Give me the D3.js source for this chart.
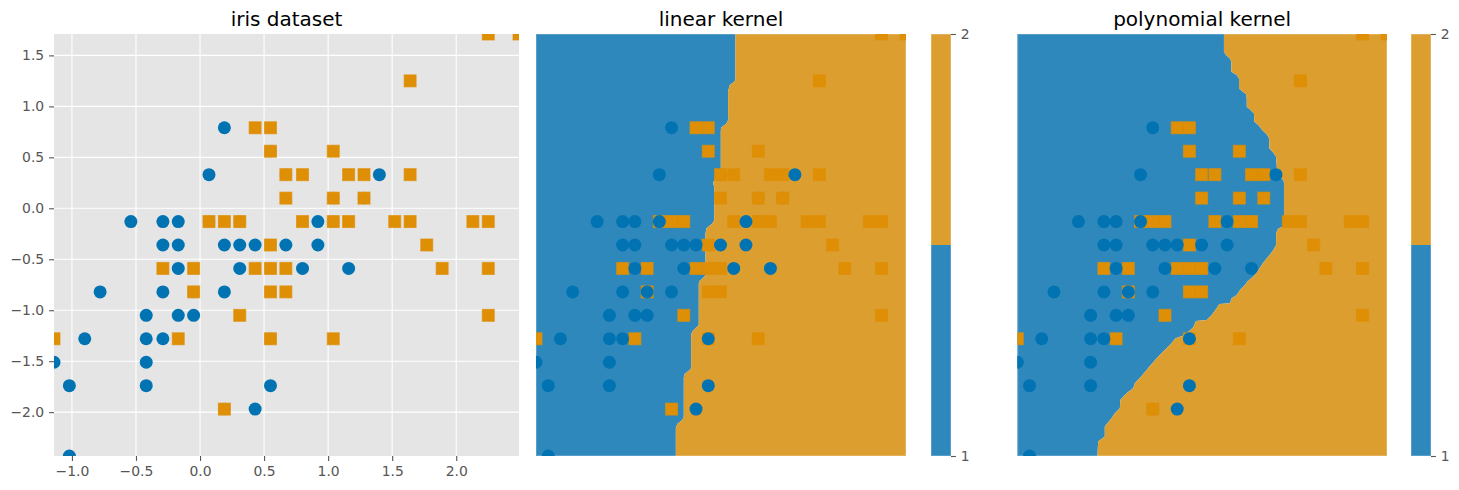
<!DOCTYPE html>
<html>
<head>
<meta charset="utf-8">
<style>
  body { margin: 0; background: #fff; }
  text { font-family: "DejaVu Sans", sans-serif; }
</style>
<script src="https://cdn.jsdelivr.net/npm/d3@7"></script>
</head>
<body>
<script>
/* global d3 */
(function () {
  'use strict'

  // class 1 points (standardised sepal length / width)
  var class1X = [1.40, 0.67, 1.28, -0.42, 0.80, -0.17, 0.55, -1.14, 0.92, -0.78, -1.02, 0.07, 0.19, 0.31, -0.29, 1.04, -0.29, -0.05, 0.43, -0.29, 0.07, 0.31, 0.55, 0.67, 0.92, 1.16, 1.04, 0.19, -0.17, -0.42, 0.19, -0.54, 0.19, 0.55, -0.42, -0.42, 0.31, -0.05, -1.02, -0.29, -0.17, -0.17, 0.43, -0.90]
  var class1Y = [0.33, 0.33, 0.10, -1.74, -0.59, -0.59, 0.56, -1.51, -0.36, -0.82, -2.43, -0.13, -1.97, -0.36, -0.36, 0.10, -0.13, -0.82, -1.97, -1.28, 0.33, -0.59, -1.28, -0.36, -0.13, -0.59, -0.13, -0.36, -1.05, -1.51, -0.82, -0.13, 0.79, -1.74, -1.28, -1.05, -0.13, -1.05, -1.74, -0.82, -0.13, -0.36, -0.36, -1.28]

  // class 2 points
  var class2X = [0.55, -0.05, 1.52, 0.55, 0.80, 2.13, -1.14, 1.77, 1.04, 1.64, 0.80, 0.67, 1.16, -0.17, -0.05, 0.67, 2.25, 2.25, 0.19, 1.28, -0.29, 2.25, 0.55, 1.04, 1.64, 0.43, 0.31, 0.67, 1.64, 1.89, 2.49, 0.55, 0.31, 2.25, 0.55, 0.67, 0.19, 1.28, 1.04, 1.16, 1.04, 0.55, 0.43, 0.07]
  var class2Y = [0.56, -0.82, -0.13, -0.36, -0.13, -0.13, -1.28, -0.36, -1.28, 1.25, 0.33, -0.82, -0.13, -1.28, -0.59, 0.33, 1.71, -1.05, -1.97, 0.33, -0.59, -0.59, -0.82, 0.56, 0.33, -0.59, -0.13, -0.59, -0.13, -0.59, 1.71, -0.59, -1.05, -0.13, 0.79, 0.10, -0.13, 0.10, 0.10, 0.33, -0.13, -1.28, 0.79, -0.13]

  // coincident points where class 1 stays on top in the kernel panels
  var class1OnTopX = [0.07, -0.05, 0.55]
  var class1OnTopY = [-0.13, -0.82, -1.28]

  // decision boundary of the linear kernel, top to bottom
  var linearEdgeX = [0.817, 0.817, 0.801, 0.762, 0.752, 0.745, 0.745, 0.752, 0.729, 0.680, 0.673, 0.673, 0.608, 0.598, 0.608, 0.608, 0.592, 0.533, 0.523, 0.523, 0.506, 0.467, 0.457, 0.457, 0.435, 0.392, 0.382, 0.382, 0.362, 0.320, 0.310, 0.310, 0.297, 0.245, 0.232, 0.232]
  var linearEdgeY = [1.71, 1.258, 1.240, 1.209, 1.176, 1.150, 0.898, 0.882, 0.833, 0.794, 0.768, 0.392, 0.277, 0.245, 0.212, -0.115, -0.147, -0.196, -0.245, -0.654, -0.676, -0.710, -0.735, -1.144, -1.167, -1.210, -1.242, -1.569, -1.592, -1.624, -1.657, -2.043, -2.075, -2.115, -2.157, -2.43]

  // decision boundary of the polynomial kernel, top to bottom
  var polyEdgeX = [0.889, 0.889, 0.909, 0.948, 0.962, 0.962, 1.014, 1.037, 1.037, 1.063, 1.106, 1.113, 1.113, 1.145, 1.184, 1.187, 1.227, 1.260, 1.315, 1.332, 1.335, 1.374, 1.401, 1.408, 1.408, 1.473, 1.479, 1.479, 1.423, 1.401, 1.401, 1.374, 1.325, 1.283, 1.227, 1.178, 1.119, 1.096, 1.047, 1.014, 0.965, 0.948, 0.844, 0.817, 0.768, 0.719, 0.614, 0.588, 0.539, 0.506, 0.414, 0.358, 0.244, 0.162, 0.080, 0.014, -0.002, -0.068, -0.127, -0.133, -0.182, -0.215, -0.264, -0.281, -0.281, -0.346, -0.353]
  var polyEdgeY = [1.71, 1.536, 1.503, 1.470, 1.438, 1.340, 1.307, 1.274, 1.176, 1.153, 1.120, 1.078, 0.996, 0.970, 0.931, 0.850, 0.817, 0.774, 0.719, 0.686, 0.588, 0.546, 0.506, 0.408, 0.333, 0.277, 0.245, -0.180, -0.196, -0.245, -0.360, -0.409, -0.474, -0.523, -0.605, -0.670, -0.719, -0.752, -0.801, -0.850, -0.883, -0.932, -0.938, -0.981, -1.046, -1.095, -1.105, -1.167, -1.210, -1.242, -1.275, -1.340, -1.455, -1.546, -1.644, -1.716, -1.765, -1.814, -1.879, -1.961, -2.010, -2.059, -2.118, -2.141, -2.239, -2.288, -2.43]

  var xTicks = [-1, -0.5, 0, 0.5, 1, 1.5, 2]
  var yTicks = [-2, -1.5, -1, -0.5, 0, 0.5, 1, 1.5]
  var classLevels = [1, 2]
  var titles = ['iris dataset', 'linear kernel', 'polynomial kernel']

  var blue = '#0173b2'
  var orange = '#de8f05'
  var blueFill = '#2e88bc'
  var orangeFill = '#dd9e30'
  var textGrey = '#555555'
  var circleR = 6.5
  var squareSide = 12
  var tickLen = 4.9

  var top = 34
  var bottom = 456

  var xExtent = [d3.min(class1X.concat(class2X)), d3.max(class1X.concat(class2X))]
  var yExtent = [d3.min(class1Y.concat(class2Y)), d3.max(class1Y.concat(class2Y))]
  var yScale = d3.scaleLinear().domain(yExtent).range([bottom, top])

  var svg = d3.select('body').append('svg')
    .attr('width', 1459)
    .attr('height', 490)
    .style('display', 'block')

  function zip (xs, ys) {
    return xs.map(function (x, i) { return { x: x, y: ys[i] } })
  }

  var class1 = zip(class1X, class1Y)
  var class2 = zip(class2X, class2Y)
  var onTop = zip(class1OnTopX, class1OnTopY)

  function isShared (d) {
    return class2.some(function (e) { return e.x === d.x && e.y === d.y })
  }
  function isOnTop (d) {
    return onTop.some(function (e) { return e.x === d.x && e.y === d.y })
  }

  function drawCircles (g, x, points, opacity) {
    g.append('g').selectAll('circle')
      .data(points)
      .enter().append('circle')
        .attr('cx', function (d) { return x(d.x) })
        .attr('cy', function (d) { return yScale(d.y) })
        .attr('r', circleR)
        .attr('fill', blue)
        .attr('fill-opacity', opacity)
  }

  function drawSquares (g, x, points) {
    g.append('g').selectAll('rect')
      .data(points)
      .enter().append('rect')
        .attr('x', function (d) { return x(d.x) - squareSide / 2 })
        .attr('y', function (d) { return yScale(d.y) - squareSide / 2 })
        .attr('width', squareSide)
        .attr('height', squareSide)
        .attr('fill', orange)
        .attr('stroke', orange)
        .attr('stroke-opacity', 0.7)
        .attr('stroke-width', 1)
  }

  function addClip (id, x0, x1) {
    svg.append('clipPath').attr('id', id)
      .append('rect')
        .attr('x', x0)
        .attr('y', top)
        .attr('width', x1 - x0)
        .attr('height', bottom - top)
  }

  function addTitle (text, x0, x1) {
    svg.append('text')
      .attr('x', (x0 + x1) / 2)
      .attr('y', 25.5)
      .attr('text-anchor', 'middle')
      .attr('font-size', 20)
      .attr('fill', '#000')
      .text(text)
  }

  // the filled areas fade a little at their outer edge
  function addEdge (x0, y0, x1, y1) {
    svg.append('rect')
      .attr('x', x0 + 0.5)
      .attr('y', y0 + 0.5)
      .attr('width', x1 - x0 - 1)
      .attr('height', y1 - y0 - 1)
      .attr('fill', 'none')
      .attr('stroke', '#fff')
      .attr('stroke-opacity', 0.2)
  }

  // ---- iris dataset panel
  function drawScatterPanel (x0, x1, title) {
    var x = d3.scaleLinear().domain(xExtent).range([x0, x1])

    svg.append('rect')
      .attr('x', x0)
      .attr('y', top)
      .attr('width', x1 - x0)
      .attr('height', bottom - top)
      .attr('fill', '#e5e5e5')

    svg.append('g').selectAll('line')
      .data(xTicks)
      .enter().append('line')
        .attr('x1', function (d) { return x(d) })
        .attr('x2', function (d) { return x(d) })
        .attr('y1', top)
        .attr('y2', bottom)
        .attr('stroke', '#fff')
        .attr('stroke-width', 1.1)
    svg.append('g').selectAll('line')
      .data(yTicks)
      .enter().append('line')
        .attr('x1', x0)
        .attr('x2', x1)
        .attr('y1', function (d) { return yScale(d) })
        .attr('y2', function (d) { return yScale(d) })
        .attr('stroke', '#fff')
        .attr('stroke-width', 1.1)

    var xAxis = d3.axisBottom(x).tickValues(xTicks).tickSize(tickLen).tickPadding(4.9).tickFormat(d3.format('.1f'))
    var yAxis = d3.axisLeft(yScale).tickValues(yTicks).tickSize(tickLen).tickPadding(4.9).tickFormat(d3.format('.1f'))

    var gx = svg.append('g').attr('transform', 'translate(0,' + bottom + ')').call(xAxis)
    var gy = svg.append('g').attr('transform', 'translate(' + x0 + ',0)').call(yAxis)
    ;[gx, gy].forEach(function (a) {
      a.select('.domain').remove()
      a.selectAll('line').attr('stroke', textGrey).attr('stroke-width', 1.1)
      a.selectAll('text').attr('fill', textGrey).attr('font-size', 13.9).attr('font-family', '"DejaVu Sans", sans-serif')
    })

    addClip('clip-0', x0, x1)
    var g = svg.append('g').attr('clip-path', 'url(#clip-0)')
    // circles under a square only tint its edge
    drawCircles(g, x, class1.filter(isShared), 0.25)
    drawCircles(g, x, class1.filter(function (d) { return !isShared(d) }), 1)
    drawSquares(g, x, class2)
    addTitle(title, x0, x1)
  }

  // ---- kernel panel with its class colorbar
  function drawKernelPanel (id, x0, x1, barX, edgeX, edgeY, title) {
    var x = d3.scaleLinear().domain(xExtent).range([x0, x1])
    var edge = zip(edgeX, edgeY)

    var right = d3.area()
      .y(function (d) { return yScale(d.y) })
      .x0(function (d) { return x(d.x) })
      .x1(x(xExtent[1]))
    var left = d3.area()
      .y(function (d) { return yScale(d.y) })
      .x0(x(xExtent[0]))
      .x1(function (d) { return x(d.x) })

    svg.append('path').datum(edge).attr('d', left).attr('fill', blueFill)
    svg.append('path').datum(edge).attr('d', right).attr('fill', orangeFill)
    addEdge(x0, top, x1, bottom)

    addClip('clip-' + id, x0, x1)
    var g = svg.append('g').attr('clip-path', 'url(#clip-' + id + ')')

    // coincident points: the square normally covers the circle
    var covered = class1.filter(function (d) { return isShared(d) && !isOnTop(d) })
    var rest = class1.filter(function (d) { return !isShared(d) || isOnTop(d) })
    drawCircles(g, x, covered, 0.25)
    drawSquares(g, x, class2)
    drawCircles(g, x, rest, 1)

    addTitle(title, x0, x1)

    // colorbar
    var barScale = d3.scaleLinear().domain(d3.extent(classLevels)).range([bottom, top])
    var barWidth = 20
    var mid = d3.mean(classLevels)
    svg.append('rect')
      .attr('x', barX)
      .attr('y', barScale(2))
      .attr('width', barWidth)
      .attr('height', barScale(mid) - barScale(2))
      .attr('fill', orangeFill)
    svg.append('rect')
      .attr('x', barX)
      .attr('y', barScale(mid))
      .attr('width', barWidth)
      .attr('height', barScale(1) - barScale(mid))
      .attr('fill', blueFill)
    addEdge(barX, top, barX + barWidth, bottom)

    var barAxis = d3.axisRight(barScale).tickValues(classLevels).tickSize(tickLen).tickPadding(4.9).tickFormat(d3.format('d'))
    var gb = svg.append('g').attr('transform', 'translate(' + (barX + barWidth) + ',0)').call(barAxis)
    gb.select('.domain').remove()
    gb.selectAll('line').attr('stroke', textGrey).attr('stroke-width', 1.1)
    gb.selectAll('text').attr('fill', textGrey).attr('font-size', 13.9).attr('font-family', '"DejaVu Sans", sans-serif')
  }

  drawScatterPanel(54, 519, titles[0])
  drawKernelPanel(1, 536, 906, 931, linearEdgeX, linearEdgeY, titles[1])
  drawKernelPanel(2, 1017.3, 1387, 1411, polyEdgeX, polyEdgeY, titles[2])
}())
</script>
</body>
</html>
